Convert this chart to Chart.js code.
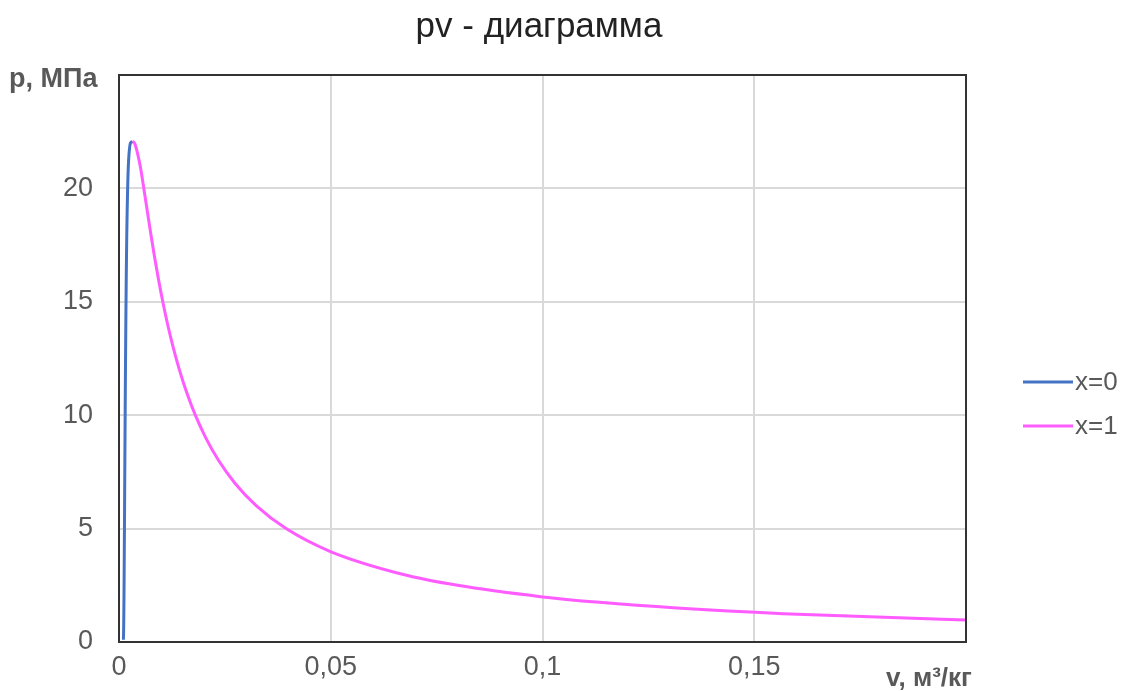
<!DOCTYPE html>
<html>
<head>
<meta charset="utf-8">
<script src="https://cdn.jsdelivr.net/npm/chart.js@4.4.1/dist/chart.umd.min.js"></script>
<style>
html,body{margin:0;padding:0;background:#fff;}
#wrap{width:1126px;height:691px;position:relative;}
</style>
</head>
<body>
<div id="wrap"><canvas id="c" width="1126" height="691"></canvas></div>
<script>
// Saturated liquid (x=0)
const pLiquid = [0.1, 0.5, 1, 2, 3, 4, 5, 6, 7, 8, 9, 10, 11, 12, 13, 14, 15, 16, 17, 18, 19, 20, 21, 22, 22.064];
const vLiquid = [0.001043, 0.001093, 0.001127, 0.001177, 0.001217, 0.001252, 0.001286, 0.001319, 0.001351, 0.001384, 0.001418, 0.001453, 0.001489, 0.001527, 0.001567, 0.001611, 0.001658, 0.001710, 0.001770, 0.001840, 0.001926, 0.002040, 0.002207, 0.002704, 0.003106];
// Saturated vapour (x=1)
const pVapor = [22.064, 22, 21, 20, 19, 18, 17, 16, 15, 14, 13, 12, 11, 10, 9, 8, 7, 6, 5, 4, 3, 2.5, 2, 1.75, 1.5, 1.25, 1, 0.9];
const vVapor = [0.003106, 0.003644, 0.004994, 0.005862, 0.006677, 0.007504, 0.008374, 0.009312, 0.010341, 0.011487, 0.012781, 0.014264, 0.015988, 0.018028, 0.020489, 0.023525, 0.027378, 0.032449, 0.039448, 0.049779, 0.066664, 0.079934, 0.099585, 0.11344, 0.13171, 0.15686, 0.19436, 0.21489];

const seriesNames = ['x=0', 'x=1'];
const seriesColors = ['#4472C4', '#FF5CFF'];
const xTicks = [0, 0.05, 0.1, 0.15, 0.2];
const yTicks = [0, 5, 10, 15, 20, 25];
const titleText = 'pv - диаграмма';
const yTitle = 'p, МПа';
const xTitle = 'v, м³/кг';

const FONT = "'Liberation Sans', Arial, sans-serif";

function toPts(xs, ys){ return xs.map((x,i)=>({x:x, y:ys[i]})); }

const textPlugin = {
  id: 'texts',
  afterDraw(chart){
    const ctx = chart.ctx, a = chart.chartArea;
    ctx.save();
    // border
    ctx.strokeStyle = '#333';
    ctx.lineWidth = 2;
    ctx.strokeRect(a.left, a.top, a.right - a.left, a.bottom - a.top);
    // title
    ctx.fillStyle = '#222';
    ctx.font = '35px ' + FONT;
    ctx.textAlign = 'center';
    ctx.textBaseline = 'middle';
    ctx.fillText(titleText, 539, 27);
    // axis titles
    ctx.fillStyle = '#595959';
    ctx.font = 'bold 27px ' + FONT;
    ctx.textAlign = 'left';
    ctx.fillText(yTitle, 9, 80);
    ctx.font = 'bold 26px ' + FONT;
    ctx.fillText(xTitle, 886, 679);
    // legend
    ctx.font = '26px ' + FONT;
    const ly = [382, 426];
    chart.data.datasets.forEach((ds, i) => {
      ctx.strokeStyle = ds.borderColor;
      ctx.lineWidth = 3;
      ctx.beginPath();
      ctx.moveTo(1023, ly[i]);
      ctx.lineTo(1073, ly[i]);
      ctx.stroke();
      ctx.fillStyle = '#595959';
      ctx.textAlign = 'left';
      ctx.fillText(ds.label, 1075, ly[i] + 1);
    });
    ctx.restore();
  }
};

new Chart(document.getElementById('c'), {
  type: 'scatter',
  data: {
    datasets: [
      { label: seriesNames[0], data: toPts(vLiquid, pLiquid), showLine: true, borderColor: seriesColors[0], backgroundColor: seriesColors[0], borderWidth: 3, pointRadius: 0, cubicInterpolationMode: 'monotone' },
      { label: seriesNames[1], data: toPts(vVapor, pVapor), showLine: true, borderColor: seriesColors[1], backgroundColor: seriesColors[1], borderWidth: 3, pointRadius: 0, cubicInterpolationMode: 'monotone' }
    ]
  },
  options: {
    responsive: false,
    animation: false,
    layout: { padding: { top: 75, right: 160, left: 0, bottom: 0 } },
    plugins: { legend: { display: false }, title: { display: false }, tooltip: { enabled: false } },
    scales: {
      x: {
        type: 'linear', min: 0, max: 0.2,
        afterBuildTicks(s){ s.ticks = xTicks.map(v => ({value: v})); },
        afterFit(s){ s.height = 49; },
        grid: { color: '#d9d9d9', lineWidth: 2, drawTicks: false },
        border: { display: false },
        ticks: {
          padding: 9, color: '#595959', font: { family: FONT, size: 27 },
          callback: (v) => (Math.abs(v - 0.2) < 1e-9 ? '' : String(+v.toFixed(2)).replace('.', ','))
        }
      },
      y: {
        type: 'linear', min: 0, max: 25,
        afterBuildTicks(s){ s.ticks = yTicks.map(v => ({value: v})); },
        afterFit(s){ s.width = 119; },
        grid: { color: '#d9d9d9', lineWidth: 2, drawTicks: false },
        border: { display: false },
        ticks: {
          padding: 26, color: '#595959', font: { family: FONT, size: 27 },
          callback: (v) => (v === 25 ? '' : String(v))
        }
      }
    }
  },
  plugins: [textPlugin]
});
</script>
</body>
</html>
